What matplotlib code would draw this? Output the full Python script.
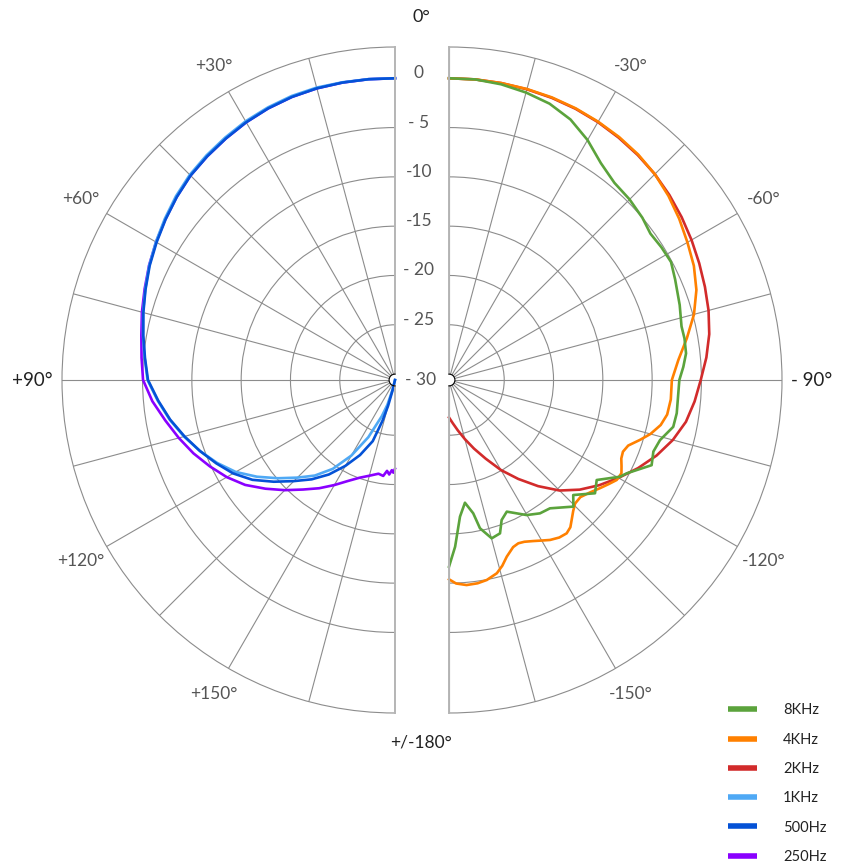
import numpy as np
import matplotlib
matplotlib.use("Agg")
import matplotlib.pyplot as plt
from matplotlib.lines import Line2D

plt.rcParams['font.family'] = ['Lato', 'DejaVu Sans']

# ---- data (angle in degrees off axis, level in dB) ----
# left half (+ angles)
ang_250 = [0, 5, 10, 15, 20, 25, 30, 35, 40, 45, 50, 55, 60, 65, 70, 75, 80, 85, 90,
           95, 100, 105, 110, 115, 120, 125, 130, 135, 140, 145, 150, 155, 160, 165, 170,
           173, 175, 176.5, 178, 179, 180]
db_250 = [0, 0.02, 0.03, 0.02, -0.05, -0.2, -0.42, -0.7, -0.98, -1.27, -1.7, -2.17, -2.62, -3.08, -3.58,
          -4.03, -4.48, -4.8, -5.05, -5.9, -6.95, -7.9, -8.85, -9.88, -10.9, -12.05, -13.45, -14.8,
          -16.1, -17.2, -18.3, -19.3, -20.05, -20.55, -20.95, -20.8, -21.35, -21.0, -21.45, -21.2, -21.6]

ang_1k = [0, 5, 10, 15, 20, 25, 30, 35, 40, 45, 50, 55, 60, 65, 70, 75, 80, 85, 90,
          95, 100, 105, 110, 115, 120, 125, 130, 135, 140, 145, 150, 155, 160, 163, 166, 168, 180]
db_1k = [0, 0.03, 0.06, 0.1, 0.05, -0.1, -0.3, -0.58, -0.86, -1.17, -1.6, -2.1, -2.6, -3.1, -3.65,
         -4.15, -4.65, -5.12, -5.5, -6.45, -7.4, -8.45, -9.55, -10.7, -11.95, -13.5, -15.1, -16.6,
         -17.95, -19.6, -21.75, -24.2, -26.7, -28.0, -29.6, -30.6, -30.6]

ang_500 = [0, 5, 10, 15, 20, 25, 30, 35, 40, 45, 50, 55, 60, 65, 70, 75, 80, 85, 90,
           95, 100, 105, 110, 115, 120, 125, 130, 135, 140, 145, 150, 155, 160, 163, 165, 167, 168, 180]
db_500 = [0, 0.02, 0.03, 0.02, -0.05, -0.2, -0.42, -0.7, -0.98, -1.28, -1.72, -2.2, -2.68, -3.15, -3.68,
          -4.18, -4.68, -5.15, -5.55, -6.5, -7.45, -8.5, -9.55, -10.6, -11.65, -12.95, -14.55, -16.1,
          -17.45, -18.9, -20.55, -22.2, -24.0, -26.3, -27.9, -29.6, -30.6, -30.6]

# right half (- angles)
ang_2k = [0, 5, 10, 15, 20, 25, 30, 35, 40, 45, 50, 55, 60, 65, 70, 75, 80, 85, 90,
          95, 100, 105, 110, 115, 120, 125, 130, 135, 140, 145, 150, 155, 160, 165, 170, 175, 180]
db_2k = [0, 0, -0.03, -0.08, -0.15, -0.25, -0.4, -0.6, -0.82, -1.08, -1.42, -1.8, -2.2, -2.6, -2.98,
         -3.35, -3.8, -4.4, -5.07, -5.6, -6.2, -7.1, -8.2, -9.45, -10.75, -12.0, -13.3, -14.75, -16.55,
         -18.35, -20.05, -21.8, -23.2, -24.4, -25.4, -26.2, -26.8]

ang_4k = [0, 5, 10, 15, 20, 25, 30, 35, 40, 45, 50, 55, 60, 65, 70, 75, 80, 85, 90,
          95, 99, 102, 105, 107.4, 110.1, 112.4, 114.5, 116.5, 118.4, 120.8, 123, 125.6, 128.5,
          131.7, 134.4, 136.5, 138.8, 140.5, 142.5, 145, 147.7, 150, 152.4, 155, 157, 159, 161.9,
          164, 166.1, 169.3, 172, 175.1, 178, 180]
db_4k = [0, 0, -0.02, -0.05, -0.1, -0.2, -0.35, -0.52, -0.75, -1.08, -1.55, -2.1, -2.68, -3.2, -3.9,
         -4.88, -6.1, -7.25, -8.0, -8.02, -8.2, -8.65, -9.45, -10.3, -11.25, -11.52, -11.4, -11.05,
         -10.72, -10.8, -11.25, -11.76, -12.3, -12.75, -12.7, -12.3, -11.72, -11.25, -11.0, -11.1,
         -11.41, -11.8, -12.17, -12.5, -12.61, -12.45, -11.75, -11.0, -10.41, -9.96, -9.78, -9.73,
         -9.95, -10.39]

ang_8k = [0, 5, 10, 15, 20, 25, 30, 35, 40, 45, 50, 54, 58, 62, 66, 72, 77, 80, 83.6, 86.8, 90,
          98.3, 101.8, 105.9, 109.3, 112.8, 117.7, 119.5, 124.1, 127.8, 132.8, 135.5, 141.8, 145.7,
          150.1, 156.3, 159.4, 161.6, 164.9, 168.2, 169.7, 172.6, 175.4, 177.9, 180]
db_8k = [0, 0, -0.15, -0.42, -0.78, -1.45, -2.5, -3.75, -4.5, -4.7, -5.0, -5.35, -5.2, -5.1, -5.5,
         -6.0, -6.4, -6.35, -6.41, -6.8, -7.24, -7.26, -7.37, -8.35, -8.64, -8.31, -10.24, -10.68,
         -12.51, -11.86, -13.43, -12.6, -14.04, -14.23, -14.8, -16.02, -15.43, -14.21, -13.97, -15.24,
         -16.86, -18.05, -16.7, -13.68, -11.67]

left_series = [("250Hz", ang_250, db_250, "#8a00ff"),
               ("1KHz", ang_1k, db_1k, "#4fa9f5"),
               ("500Hz", ang_500, db_500, "#0452d6")]
right_series = [("2KHz", ang_2k, db_2k, "#d22b2b"),
                ("4KHz", ang_4k, db_4k, "#ff8000"),
                ("8KHz", ang_8k, db_8k, "#5ba33c")]
legend_order = ["8KHz", "4KHz", "2KHz", "1KHz", "500Hz", "250Hz"]

ring_vals = [-25, -20, -15, -10, -5]
db_ticks = [0, -5, -10, -15, -20, -25]
db_tick_labels = ["0", "- 5", "-10", "-15", "- 20", "- 25"]
left_angle_labels = {30: "+30°", 60: "+60°", 120: "+120°", 150: "+150°"}
right_angle_labels = {30: "-30°", 60: "-60°", 120: "-120°", 150: "-150°"}

GRID = "#8c8c8c"

fig = plt.figure(figsize=(8.49, 8.64), dpi=100)


def half_axes(left, direction):
    # polar pads a half wedge to a square box, so the axes are 2R x 2R
    ax = fig.add_axes([left, 0.17477, 0.78445, 0.77083], projection="polar")
    ax.set_theta_zero_location("N")
    ax.set_theta_direction(direction)
    ax.set_thetamin(0)
    ax.set_thetamax(180)
    ax.set_rorigin(-30.6)
    ax.set_ylim(-30, 3.17)
    ax.set_thetagrids(np.arange(0, 181, 15), labels=[])
    ax.set_rgrids(ring_vals, labels=[])
    ax.grid(True, color=GRID, lw=0.8)
    ax.spines["polar"].set_color(GRID)
    ax.spines["polar"].set_linewidth(0.8)
    for s in ("start", "end"):
        ax.spines[s].set_color("#b5b5b5")
        ax.spines[s].set_linewidth(1.4)
    ax.spines["inner"].set_visible(False)
    return ax


ax_l = half_axes(-104.5 / 849, 1)
ax_r = half_axes(282.5 / 849, -1)

handles = {}
for ax, series in ((ax_l, left_series), (ax_r, right_series)):
    for name, ang, db, col in series:
        ln, = ax.plot(np.deg2rad(ang), db, color=col, lw=1.9, clip_on=False,
                      solid_joinstyle="round")
        handles[name] = ln

# angle labels
for a, lab in left_angle_labels.items():
    ax_l.text(np.deg2rad(a), 6.2, lab, ha="center", va="center", fontsize=12.5, color="#555555")
for a, lab in right_angle_labels.items():
    ax_r.text(np.deg2rad(a), 6.2, lab, ha="center", va="center", fontsize=12.5, color="#555555")
ax_l.text(np.deg2rad(90), 6.2, "+90°", ha="center", va="center", fontsize=13.5, color="#222222")
ax_r.text(np.deg2rad(90), 6.2, "- 90°", ha="center", va="center", fontsize=13.5, color="#222222")
ax_l.annotate("0°", xy=(0, 6.2), xytext=(26, 0), textcoords="offset pixels",
              ha="center", va="center", fontsize=13, color="#222222", annotation_clip=False)
ax_l.annotate("+/-180°", xy=(np.pi, 6.2), xytext=(26, 0), textcoords="offset pixels",
              ha="center", va="center", fontsize=12.5, color="#222222", annotation_clip=False)

# dB scale between the halves
for v, lab in zip(db_ticks, db_tick_labels):
    ax_l.annotate(lab, xy=(0, v), xytext=(24, 5), textcoords="offset pixels",
                  ha="center", va="center", fontsize=12.5, color="#555555", annotation_clip=False)
ax_l.annotate("- 30", xy=(0, -30.6), xytext=(26, 0), textcoords="offset pixels",
              ha="center", va="center", fontsize=12.5, color="#555555", annotation_clip=False)

leg_handles = [Line2D([], [], color=handles[n].get_color(), lw=4, solid_capstyle="butt")
               for n in legend_order]
fig.legend(leg_handles, legend_order, loc="upper left", bbox_to_anchor=(0.857, 0.186),
           frameon=False, fontsize=10.5, handlelength=2.0, handletextpad=1.8,
           labelspacing=1.05, borderpad=0, borderaxespad=0, labelcolor="#222222")

fig.savefig("out.png", dpi=100, facecolor="white")
